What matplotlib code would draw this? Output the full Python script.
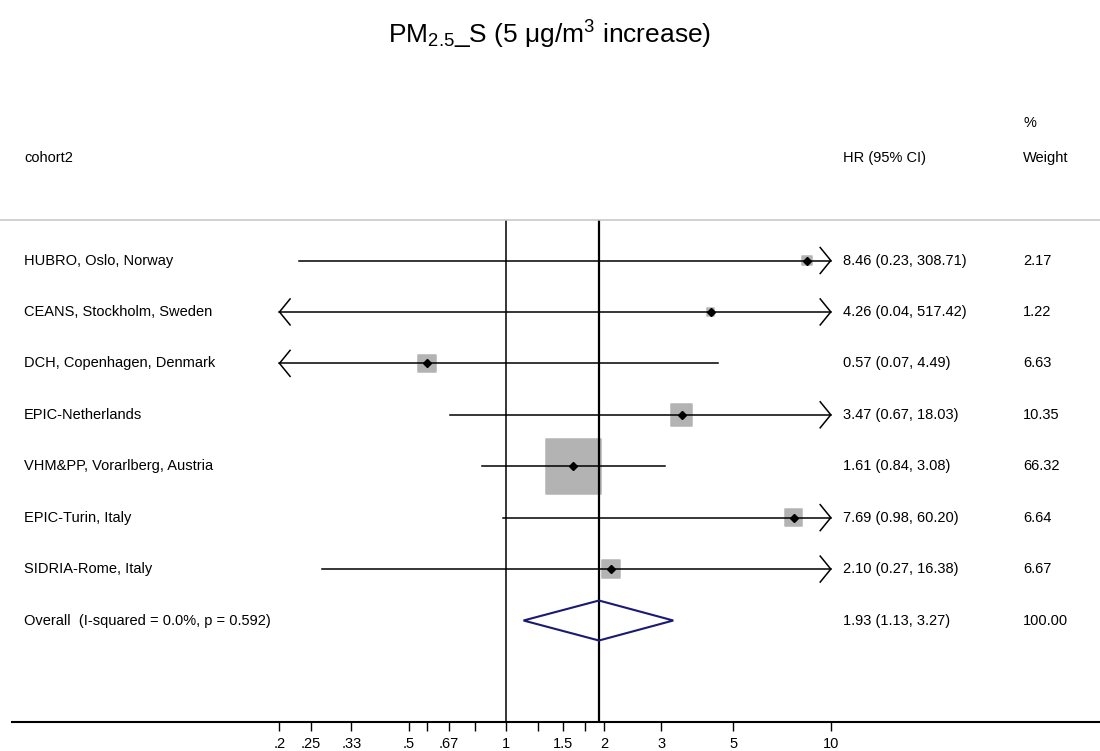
import numpy as np
import matplotlib
matplotlib.use('Agg')
import matplotlib.pyplot as plt
from matplotlib.transforms import blended_transform_factory
from matplotlib.lines import Line2D
from matplotlib.patches import Polygon
from matplotlib.ticker import NullLocator

plt.rcParams['font.family'] = 'Liberation Sans'
plt.rcParams['mathtext.fontset'] = 'custom'
plt.rcParams['mathtext.rm'] = 'Liberation Sans'
plt.rcParams['mathtext.it'] = 'Liberation Sans:italic'

# Data
cohorts = ['HUBRO, Oslo, Norway', 'CEANS, Stockholm, Sweden', 'DCH, Copenhagen, Denmark',
           'EPIC-Netherlands', 'VHM&PP, Vorarlberg, Austria', 'EPIC-Turin, Italy',
           'SIDRIA-Rome, Italy']
hr = [8.46, 4.26, 0.57, 3.47, 1.61, 7.69, 2.10]
ci_low = [0.23, 0.04, 0.07, 0.67, 0.84, 0.98, 0.27]
ci_high = [308.71, 517.42, 4.49, 18.03, 3.08, 60.20, 16.38]
weights = [2.17, 1.22, 6.63, 10.35, 66.32, 6.64, 6.67]

overall_label = 'Overall  (I-squared = 0.0%, p = 0.592)'
overall_hr = 1.93
overall_low = 1.13
overall_high = 3.27
overall_weight = 100.00

tick_values = [1/5, 1/4, 1/3, 1/2, 1/1.75, 2/3, 1/1.25, 1, 1.25, 1.5, 1.75, 2, 3, 5, 10]
tick_labels = ['.2', '.25', '.33', '.5', '', '.67', '', '1', '', '1.5', '', '2', '3', '5', '10']

# Layout (pixels of the 1100x751 canvas)
W, H = 1100, 751
axis_left_px, axis_px = 12, 722
one_px, decade_px = 506.3, 324.5
row0_px, row_px = 260.5, 51.43
sep_px = 220
fs = 10.5

fig = plt.figure(figsize=(W / 100, H / 100), dpi=100)
ax = fig.add_axes([axis_left_px / W, (H - axis_px) / H, 1 - axis_left_px / W, axis_px / H])
ax.set_xscale('log')
ax.set_xlim(10 ** ((axis_left_px - one_px) / decade_px), 10 ** ((W - one_px) / decade_px))
ax.set_ylim((axis_px - row0_px) / row_px, -row0_px / row_px)

for s in ['top', 'left', 'right']:
    ax.spines[s].set_visible(False)
ax.spines['bottom'].set_linewidth(1.5)
ax.set_yticks([])
ax.set_xticks(tick_values)
ax.set_xticklabels(tick_labels)
ax.xaxis.set_minor_locator(NullLocator())
ax.tick_params(axis='x', direction='out', length=6.5, width=1.0, labelsize=fs, pad=4.5)

lo_clip, hi_clip = min(tick_values), max(tick_values)
arrow_dx = 10.6 / decade_px
arrow_dy = 13 / row_px
sep_row = (sep_px - row0_px) / row_px
bottom_row = (axis_px - row0_px) / row_px

# reference lines
ax.plot([1, 1], [sep_row, bottom_row], color='black', lw=1.1, zorder=5, solid_capstyle='butt')
ax.plot([overall_hr, overall_hr], [sep_row, bottom_row], color='black', lw=1.6, zorder=5,
        solid_capstyle='butt')

rows = np.arange(len(cohorts))
side_px = 6.7 * np.sqrt(np.array(weights))
ax.scatter(hr, rows, s=(side_px * 0.72) ** 2, marker='s', color='#b3b3b3',
           edgecolors='#b3b3b3', linewidths=1.08, zorder=2)

for i in rows:
    a = max(ci_low[i], lo_clip)
    b = min(ci_high[i], hi_clip)
    ax.plot([a, b], [i, i], color='black', lw=1.1, zorder=3)
    if ci_low[i] < lo_clip:
        xb = lo_clip * 10 ** arrow_dx
        ax.plot([xb, lo_clip, xb], [i - arrow_dy, i, i + arrow_dy], color='black', lw=1.1, zorder=3)
    if ci_high[i] > hi_clip:
        xb = hi_clip / 10 ** arrow_dx
        ax.plot([xb, hi_clip, xb], [i - arrow_dy, i, i + arrow_dy], color='black', lw=1.1, zorder=3)

ax.plot(hr, rows, linestyle='none', marker='D', markersize=4.2, color='black', zorder=4)

# overall diamond
oy = len(cohorts)
dh = 20 / row_px
diamond = Polygon([[overall_low, oy], [overall_hr, oy - dh], [overall_high, oy], [overall_hr, oy + dh]],
                  closed=True, fill=False, edgecolor='#1a1a72', lw=1.5, zorder=6)
ax.add_patch(diamond)

# text columns
tr = blended_transform_factory(fig.transFigure, ax.transData)
x_lab, x_hr, x_w = 24 / W, 843 / W, 1023 / W
for i in rows:
    ax.text(x_lab, i, cohorts[i], transform=tr, va='center', ha='left', fontsize=fs)
    ax.text(x_hr, i, f'{hr[i]:.2f} ({ci_low[i]:.2f}, {ci_high[i]:.2f})', transform=tr,
            va='center', ha='left', fontsize=fs)
    ax.text(x_w, i, f'{weights[i]:.2f}', transform=tr, va='center', ha='left', fontsize=fs)
ax.text(x_lab, oy, overall_label, transform=tr, va='center', ha='left', fontsize=fs)
ax.text(x_hr, oy, f'{overall_hr:.2f} ({overall_low:.2f}, {overall_high:.2f})', transform=tr,
        va='center', ha='left', fontsize=fs)
ax.text(x_w, oy, f'{overall_weight:.2f}', transform=tr, va='center', ha='left', fontsize=fs)

# headers
ax.text(x_lab, -2, 'cohort2', transform=tr, va='center', ha='left', fontsize=fs)
ax.text(x_hr, -2, 'HR (95% CI)', transform=tr, va='center', ha='left', fontsize=fs)
ax.text(x_w, -2, 'Weight', transform=tr, va='center', ha='left', fontsize=fs)
ax.text(x_w, -2.68, '%', transform=tr, va='center', ha='left', fontsize=fs)

fig.add_artist(Line2D([0, 1], [1 - sep_px / H, 1 - sep_px / H], transform=fig.transFigure,
                      color='#c4c4c4', lw=1.1))

fig.text(0.5, 1 - 43.3 / H, 'PM$_{2.5}$_S (5 \u03bcg/m$^{3}$ increase)', ha='center',
         va='baseline', fontsize=19)

fig.savefig('out.png', dpi=100)
